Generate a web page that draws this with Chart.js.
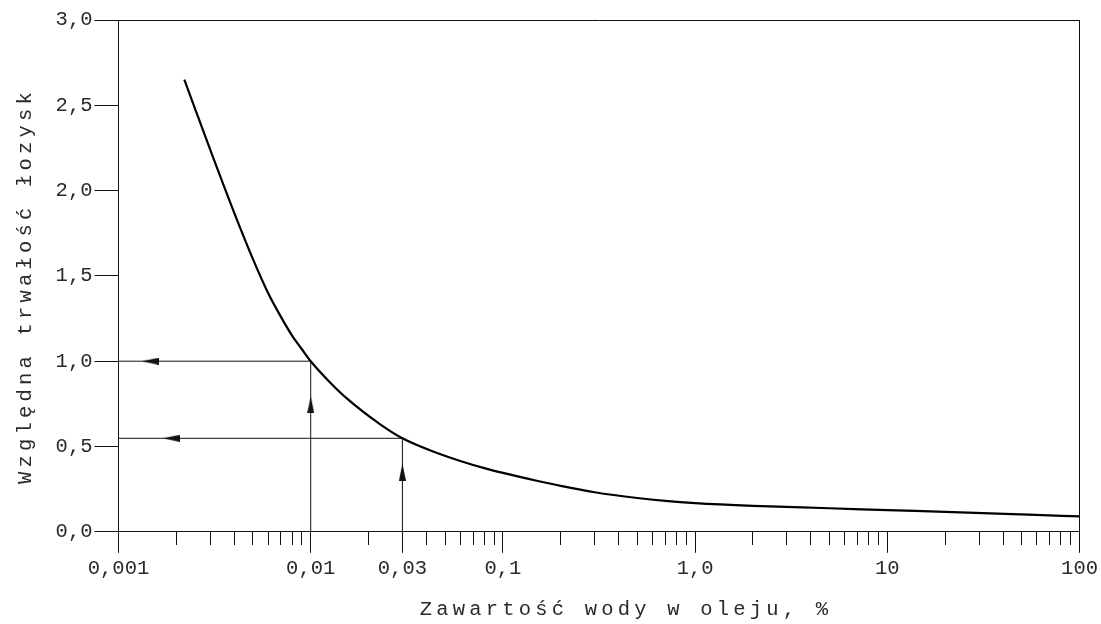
<!DOCTYPE html>
<html lang="pl">
<head>
<meta charset="utf-8">
<title>Względna trwałość łożysk</title>
<script src="https://cdn.jsdelivr.net/npm/chart.js@4/dist/chart.umd.min.js"></script>
<style>
  html, body { margin: 0; padding: 0; background: #fff; }
  #wrap { width: 1101px; height: 624px; position: relative; }
</style>
</head>
<body>
<div id="wrap"><canvas id="lifeChart"></canvas></div>
<script>
// curve: water content (%) vs relative bearing life
const waterContent = [0.0022, 0.003, 0.004, 0.005, 0.006, 0.007, 0.008, 0.009, 0.01, 0.0125, 0.0153, 0.0228, 0.03, 0.043, 0.06, 0.08, 0.1, 0.15, 0.2, 0.3, 0.5, 0.7, 1, 2, 5, 10, 20, 50, 100];
const relativeLife = [2.65, 2.24, 1.87, 1.60, 1.40, 1.26, 1.15, 1.07, 1.0, 0.88, 0.785, 0.633, 0.548, 0.472, 0.415, 0.373, 0.345, 0.299, 0.269, 0.232, 0.198, 0.181, 0.168, 0.152, 0.138, 0.127, 0.117, 0.102, 0.09];

// the two read-off examples (vertical up to the curve, then left to the axis)
const guideX = [0.01, 0.03];
const guideY = [1.0, 0.548];
const arrowUpX = [0.01, 0.03];
const arrowUpY = [0.745, 0.35];
const arrowLeftX = [0.00146, 0.00188];
const arrowLeftY = [1.0, 0.548];

// axes
const xMin = 0.001, xMax = 100;
const decades = [0.001, 0.01, 0.1, 1, 10];
const mantissas = [1, 2, 3, 4, 5, 6, 7, 8, 9];
const xLabelValues = [0.001, 0.01, 0.03, 0.1, 1, 10, 100];
const xLabelTexts = ['0,001', '0,01', '0,03', '0,1', '1,0', '10', '100'];
const yMin = 0, yMax = 3, yStep = 0.5;

const xTitle = 'Zawartość wody w oleju, %';
const yTitle = 'Względna trwałość łozysk';

const ink = '#111';
const textInk = '#2a2a2a';
// titles sit a little off-centre in the original drawing
const titleShift = { x: [27, 0], y: [0, 10] };

const xTickValues = [];
decades.forEach(d => mantissas.forEach(m => xTickValues.push(Number((m * d).toPrecision(6)))));
xTickValues.push(xMax);

function labelIndex(v) {
    return xLabelValues.findIndex(l => Math.abs(l - v) / l < 1e-6);
}

// small arrowheads used as point styles
function makeArrow(dir) {
    const c = document.createElement('canvas');
    const long = 17, wide = 7;
    c.width = dir === 'up' ? wide : long;
    c.height = dir === 'up' ? long : wide;
    const g = c.getContext('2d');
    g.fillStyle = ink;
    g.beginPath();
    if (dir === 'up') {
        g.moveTo(wide / 2, 0); g.lineTo(wide, long); g.lineTo(0, long);
    } else {
        g.moveTo(0, wide / 2); g.lineTo(long, 0); g.lineTo(long, wide);
    }
    g.closePath();
    g.fill();
    return c;
}

// wider letter spacing (and a small shift) for the axis titles only
const titleSpacing = {
    id: 'titleSpacing',
    beforeDraw(chart) {
        Object.values(chart.scales).forEach(scale => {
            if (scale._spaced) return;
            const draw = scale.drawTitle;
            const shift = titleShift[scale.id];
            scale.drawTitle = function () {
                this.ctx.save();
                this.ctx.letterSpacing = '4.2px';
                if (shift) this.ctx.translate(shift[0], shift[1]);
                draw.call(this);
                this.ctx.restore();
            };
            scale._spaced = true;
        });
    }
};

Chart.defaults.font.family = '"Liberation Mono", "Courier New", monospace';
Chart.defaults.font.size = 20.5;
Chart.defaults.color = textInk;

const guideSets = guideX.map((gx, i) => ({
    data: [{x: gx, y: 0}, {x: gx, y: guideY[i]}, {x: xMin, y: guideY[i]}],
    borderColor: ink,
    borderWidth: 1,
    pointRadius: 0,
    tension: 0
}));

new Chart(document.getElementById('lifeChart'), {
    type: 'line',
    data: {
        datasets: [
            {
                data: waterContent.map((x, i) => ({x: x, y: relativeLife[i]})),
                borderColor: '#000',
                borderWidth: 2.2,
                pointRadius: 0,
                cubicInterpolationMode: 'monotone'
            },
            ...guideSets,
            {
                data: arrowUpX.map((x, i) => ({x: x, y: arrowUpY[i]})),
                showLine: false,
                pointStyle: makeArrow('up'),
                pointRadius: 8
            },
            {
                data: arrowLeftX.map((x, i) => ({x: x, y: arrowLeftY[i]})),
                showLine: false,
                pointStyle: makeArrow('left'),
                pointRadius: 8
            }
        ]
    },
    options: {
        responsive: true,
        maintainAspectRatio: false,
        animation: false,
        events: [],
        layout: { padding: { top: 20, right: 18, left: 0, bottom: 0 } },
        plugins: { legend: { display: false }, tooltip: { enabled: false } },
        scales: {
            x: {
                type: 'logarithmic',
                min: xMin,
                max: xMax,
                afterBuildTicks: scale => { scale.ticks = xTickValues.map(v => ({value: v})); },
                ticks: {
                    autoSkip: false,
                    maxRotation: 0,
                    padding: 3,
                    callback: v => { const i = labelIndex(v); return i < 0 ? '' : xLabelTexts[i]; }
                },
                grid: {
                    drawOnChartArea: true,
                    color: c => (c.tick && c.tick.value === xMax) ? ink : 'rgba(0,0,0,0)',
                    tickColor: ink,
                    tickLength: 21,
                    tickBorderDash: c => (c.tick && labelIndex(c.tick.value) >= 0) ? [] : [13, 40]
                },
                border: { color: ink, width: 1 },
                title: { display: true, text: xTitle, padding: { top: 14, bottom: 2 }, font: { size: 20.5 } }
            },
            y: {
                min: yMin,
                max: yMax,
                ticks: {
                    stepSize: yStep,
                    padding: 2,
                    callback: v => v.toFixed(1).replace('.', ',')
                },
                grid: {
                    drawOnChartArea: true,
                    color: c => (c.tick && c.tick.value === yMax) ? ink : 'rgba(0,0,0,0)',
                    tickColor: ink,
                    tickLength: 24
                },
                border: { color: ink, width: 1 },
                title: { display: true, text: yTitle, padding: { top: 13, bottom: 16 }, font: { size: 20.5 } }
            }
        }
    },
    plugins: [titleSpacing]
});
</script>
</body>
</html>
